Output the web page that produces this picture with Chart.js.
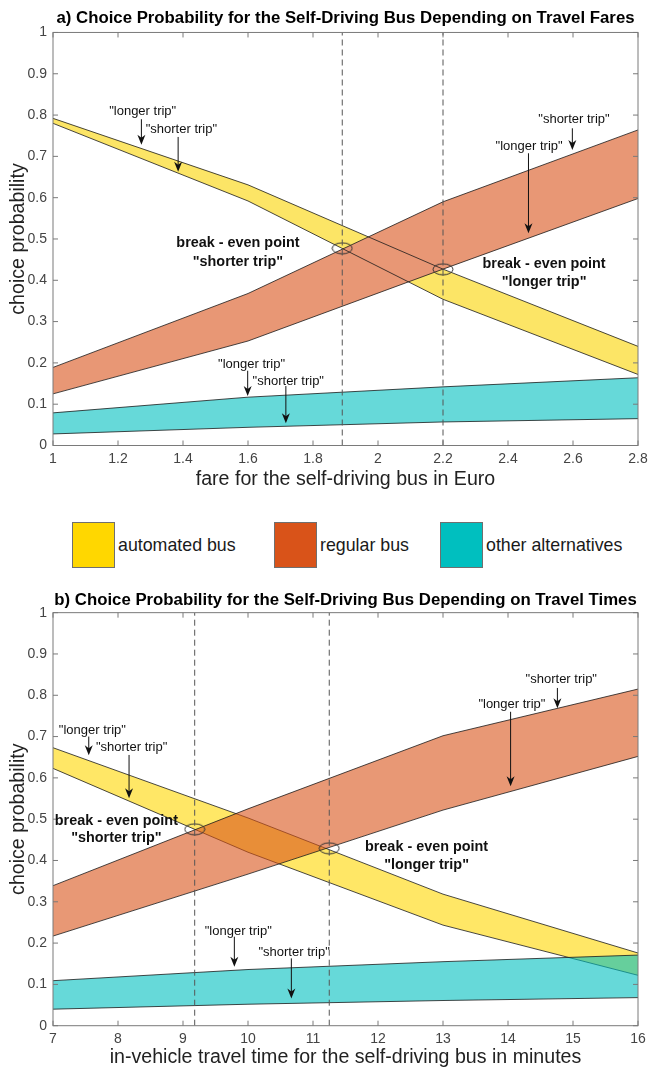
<!DOCTYPE html>
<html>
<head>
<meta charset="utf-8">
<script src="https://cdn.jsdelivr.net/npm/chart.js@4.4.0/dist/chart.umd.min.js"></script>
<style>
  body { margin: 0; background: #fff; width: 649px; height: 1071px; position: relative; overflow: hidden; font-family: "Liberation Sans", Arial, sans-serif; }
  #fareChart { position: absolute; left: 0; top: 0; }
  #timeChart { position: absolute; left: 0; top: 575px; }
  .legend-box { position: absolute; top: 522px; width: 41px; height: 44px; border: 1px solid #6f6f6f; }
  .legend-text { position: absolute; top: 534px; font-size: 17.8px; line-height: 22px; color: #1a1a1a; }
</style>
</head>
<body>
<canvas id="fareChart" width="649" height="500"></canvas>
<div id="legend"></div>
<canvas id="timeChart" width="649" height="496"></canvas>
<script>
// a) fares
const fareX = [1, 1.6, 2.2, 2.8];
const autoShorterFare = [0.780, 0.592, 0.354, 0.172];
const autoLongerFare = [0.792, 0.631, 0.427, 0.240];
const regularShorterFare = [0.189, 0.368, 0.590, 0.764];
const regularLongerFare = [0.125, 0.253, 0.427, 0.598];
const otherShorterFare = [0.028, 0.044, 0.057, 0.065];
const otherLongerFare = [0.079, 0.117, 0.142, 0.164];
const breakEvenFareX = [1.89, 2.2];
const breakEvenFareY = [0.4775, 0.4266];

// b) travel times
const timeX = [7, 10, 13, 16];
const autoShorterTime = [0.623, 0.420, 0.2435, 0.122];
const autoLongerTime = [0.673, 0.503, 0.3185, 0.176];
const regularShorterTime = [0.339, 0.525, 0.702, 0.815];
const regularLongerTime = [0.217, 0.367, 0.522, 0.652];
const otherShorterTime = [0.040, 0.052, 0.061, 0.068];
const otherLongerTime = [0.109, 0.136, 0.155, 0.171];
const breakEvenTimeX = [9.18, 11.25];
const breakEvenTimeY = [0.4755, 0.4295];

const legendLabels = ["automated bus", "regular bus", "other alternatives"];
const legendColors = ["#FFD700", "#D95319", "#00BFBF"];

const FONT = "'Liberation Sans', Arial, sans-serif";

// legend between the two plots
const legendBoxLeft = [72, 274, 440];
const legendTextLeft = [118, 320, 486];
const legend = document.getElementById("legend");
legendLabels.forEach((label, i) => {
  legend.innerHTML += `<div class="legend-box" style="left:${legendBoxLeft[i]}px;background:${legendColors[i]}"></div>` +
    `<div class="legend-text" style="left:${legendTextLeft[i]}px">${label}</div>`;
});

// small ellipse used to mark the break-even points
const ellipse = document.createElement("canvas");
ellipse.width = 22;
ellipse.height = 13;
const ectx = ellipse.getContext("2d");
ectx.strokeStyle = "#333";
ectx.lineWidth = 1;
ectx.beginPath();
ectx.ellipse(11, 6.5, 10, 5.5, 0, 0, Math.PI * 2);
ectx.stroke();

const toPoints = (xs, ys) => xs.map((x, i) => ({ x, y: ys[i] }));

const bandPair = (xs, lower, upper, fillColor, order) => [
  { data: toPoints(xs, lower), borderColor: "#1a1a1a", borderWidth: 0.8, pointRadius: 0, fill: false, order },
  { data: toPoints(xs, upper), borderColor: "#1a1a1a", borderWidth: 0.8, pointRadius: 0, fill: "-1", backgroundColor: fillColor, order },
];

const dashedLines = (xs) => xs.map((x) => ({
  data: [{ x, y: 0 }, { x, y: 1 }],
  borderColor: "#555",
  borderWidth: 1,
  borderDash: [6, 4],
  pointRadius: 0,
  fill: false,
  order: 0,
}));

// box, inward ticks, text labels and arrows
const makeDecorations = (labels, arrows) => ({
  id: "decorations",
  afterDatasetsDraw(chart) {
    const { ctx, chartArea: a, scales: { x, y } } = chart;
    ctx.save();
    ctx.strokeStyle = "#7a7a7a";
    ctx.lineWidth = 1;
    ctx.strokeRect(a.left, a.top, a.right - a.left, a.bottom - a.top);
    ctx.beginPath();
    x.ticks.forEach((t) => {
      const px = x.getPixelForValue(t.value);
      ctx.moveTo(px, a.bottom); ctx.lineTo(px, a.bottom - 5);
      ctx.moveTo(px, a.top); ctx.lineTo(px, a.top + 5);
    });
    y.ticks.forEach((t) => {
      const py = y.getPixelForValue(t.value);
      ctx.moveTo(a.left, py); ctx.lineTo(a.left + 5, py);
      ctx.moveTo(a.right, py); ctx.lineTo(a.right - 5, py);
    });
    ctx.stroke();

    ctx.fillStyle = "#111";
    ctx.textAlign = "center";
    ctx.textBaseline = "middle";
    labels.forEach((l) => {
      ctx.font = (l.bold ? "bold 14.4px " : "13px ") + FONT;
      ctx.fillText(l.text, x.getPixelForValue(l.x), y.getPixelForValue(l.y));
    });

    ctx.strokeStyle = "#111";
    arrows.forEach((ar) => {
      const px = x.getPixelForValue(ar.x);
      const y1 = y.getPixelForValue(ar.from);
      const y2 = y.getPixelForValue(ar.to);
      ctx.beginPath();
      ctx.moveTo(px, y1);
      ctx.lineTo(px, y2 - 6);
      ctx.stroke();
      ctx.beginPath();
      ctx.moveTo(px, y2);
      ctx.lineTo(px - 4, y2 - 10);
      ctx.lineTo(px, y2 - 7);
      ctx.lineTo(px + 4, y2 - 10);
      ctx.closePath();
      ctx.fill();
    });
    ctx.restore();
  },
});

const makeOptions = (title, xTitle, xMin, xMax, step, titlePad, xHeight, xTitlePad, padRight, drawTime) => ({
  responsive: false,
  animation: false,
  layout: { padding: { right: padRight, top: 0, bottom: 0, left: 0 } },
  plugins: {
    legend: { display: false },
    tooltip: { enabled: false },
    filler: { drawTime },
    title: {
      display: true,
      text: title,
      fullSize: false,
      color: "#000",
      font: { family: FONT, size: 16.8, weight: "bold", lineHeight: 1.2 },
      padding: titlePad,
    },
  },
  scales: {
    x: {
      type: "linear",
      min: xMin,
      max: xMax,
      grid: { display: false, drawTicks: false },
      border: { display: false },
      ticks: {
        stepSize: step,
        padding: 5,
        color: "#444",
        font: { family: FONT, size: 14 },
        maxRotation: 0,
        callback: (v) => String(+v.toFixed(1)),
      },
      title: {
        display: true,
        text: xTitle,
        color: "#222",
        font: { family: FONT, size: 19.6 },
        padding: { top: 0, bottom: xTitlePad },
      },
      afterFit: (s) => { s.height = xHeight; s.paddingLeft = 0; s.paddingRight = 0; },
    },
    y: {
      min: 0,
      max: 1,
      grid: { display: false, drawTicks: false },
      border: { display: false },
      ticks: {
        stepSize: 0.1,
        padding: 6,
        color: "#444",
        font: { family: FONT, size: 14 },
        callback: (v) => String(+v.toFixed(1)),
      },
      title: {
        display: true,
        text: "choice probability",
        color: "#222",
        font: { family: FONT, size: 19.6 },
        padding: { top: 7, bottom: 0 },
      },
      afterFit: (s) => { s.width = 53; },
    },
  },
});

const fareLabels = [
  { text: '"longer trip"', x: 1.276, y: 0.808 },
  { text: '"shorter trip"', x: 1.395, y: 0.766 },
  { text: "break - even point", x: 1.569, y: 0.489, bold: true },
  { text: '"shorter trip"', x: 1.569, y: 0.445, bold: true },
  { text: "break - even point", x: 2.511, y: 0.4395, bold: true },
  { text: '"longer trip"', x: 2.511, y: 0.3966, bold: true },
  { text: '"shorter trip"', x: 2.603, y: 0.79 },
  { text: '"longer trip"', x: 2.465, y: 0.725 },
  { text: '"longer trip"', x: 1.611, y: 0.196 },
  { text: '"shorter trip"', x: 1.724, y: 0.156 },
];
const fareArrows = [
  { x: 1.272, from: 0.79, to: 0.728 },
  { x: 1.385, from: 0.747, to: 0.663 },
  { x: 2.598, from: 0.768, to: 0.7155 },
  { x: 2.463, from: 0.7075, to: 0.514 },
  { x: 1.599, from: 0.181, to: 0.12 },
  { x: 1.7165, from: 0.144, to: 0.054 },
];

const timeLabels = [
  { text: '"shorter trip"', x: 14.82, y: 0.839 },
  { text: '"longer trip"', x: 14.06, y: 0.779 },
  { text: '"longer trip"', x: 7.606, y: 0.715 },
  { text: '"shorter trip"', x: 8.21, y: 0.673 },
  { text: "break - even point", x: 7.975, y: 0.4956, bold: true },
  { text: '"shorter trip"', x: 7.975, y: 0.455, bold: true },
  { text: "break - even point", x: 12.747, y: 0.4335, bold: true },
  { text: '"longer trip"', x: 12.747, y: 0.389, bold: true },
  { text: '"longer trip"', x: 9.85, y: 0.228 },
  { text: '"shorter trip"', x: 10.71, y: 0.1768 },
];
const timeArrows = [
  { x: 14.76, from: 0.8177, to: 0.7685 },
  { x: 14.04, from: 0.760, to: 0.58 },
  { x: 7.55, from: 0.70, to: 0.655 },
  { x: 8.17, from: 0.6555, to: 0.5506 },
  { x: 9.79, from: 0.2155, to: 0.143 },
  { x: 10.667, from: 0.163, to: 0.066 },
];

new Chart(document.getElementById("fareChart"), {
  type: "line",
  data: {
    datasets: [
      ...bandPair(fareX, autoShorterFare, autoLongerFare, "#FCE566", 3),
      ...bandPair(fareX, regularLongerFare, regularShorterFare, "#E89775", 2),
      ...bandPair(fareX, otherShorterFare, otherLongerFare, "#66D9D9", 1),
      ...dashedLines(breakEvenFareX),
      {
        data: toPoints(breakEvenFareX, breakEvenFareY),
        showLine: false,
        pointStyle: ellipse,
        pointRadius: 10,
        order: 0,
      },
    ],
  },
  options: makeOptions(
    "a) Choice Probability for the Self-Driving Bus Depending on Travel Fares",
    "fare for the self-driving bus in Euro",
    1, 2.8, 0.2,
    { top: 8, bottom: 4.3 },
    54.5, 9, 10, "beforeDatasetsDraw"
  ),
  plugins: [makeDecorations(fareLabels, fareArrows)],
});

new Chart(document.getElementById("timeChart"), {
  type: "line",
  data: {
    datasets: [
      ...bandPair(timeX, autoShorterTime, autoLongerTime, "rgba(255,215,0,0.6)", 3),
      ...bandPair(timeX, regularLongerTime, regularShorterTime, "rgba(217,83,25,0.6)", 2),
      ...bandPair(timeX, otherShorterTime, otherLongerTime, "rgba(0,191,191,0.6)", 1),
      ...dashedLines(breakEvenTimeX),
      {
        data: toPoints(breakEvenTimeX, breakEvenTimeY),
        showLine: false,
        pointStyle: ellipse,
        pointRadius: 10,
        order: 0,
      },
    ],
  },
  options: makeOptions(
    "b) Choice Probability for the Self-Driving Bus Depending on Travel Times",
    "in-vehicle travel time for the self-driving bus in minutes",
    7, 16, 1,
    { top: 15, bottom: 2.5 },
    45.3, 1.2, 8.3, "beforeDatasetDraw"
  ),
  plugins: [makeDecorations(timeLabels, timeArrows)],
});
</script>
</body>
</html>
